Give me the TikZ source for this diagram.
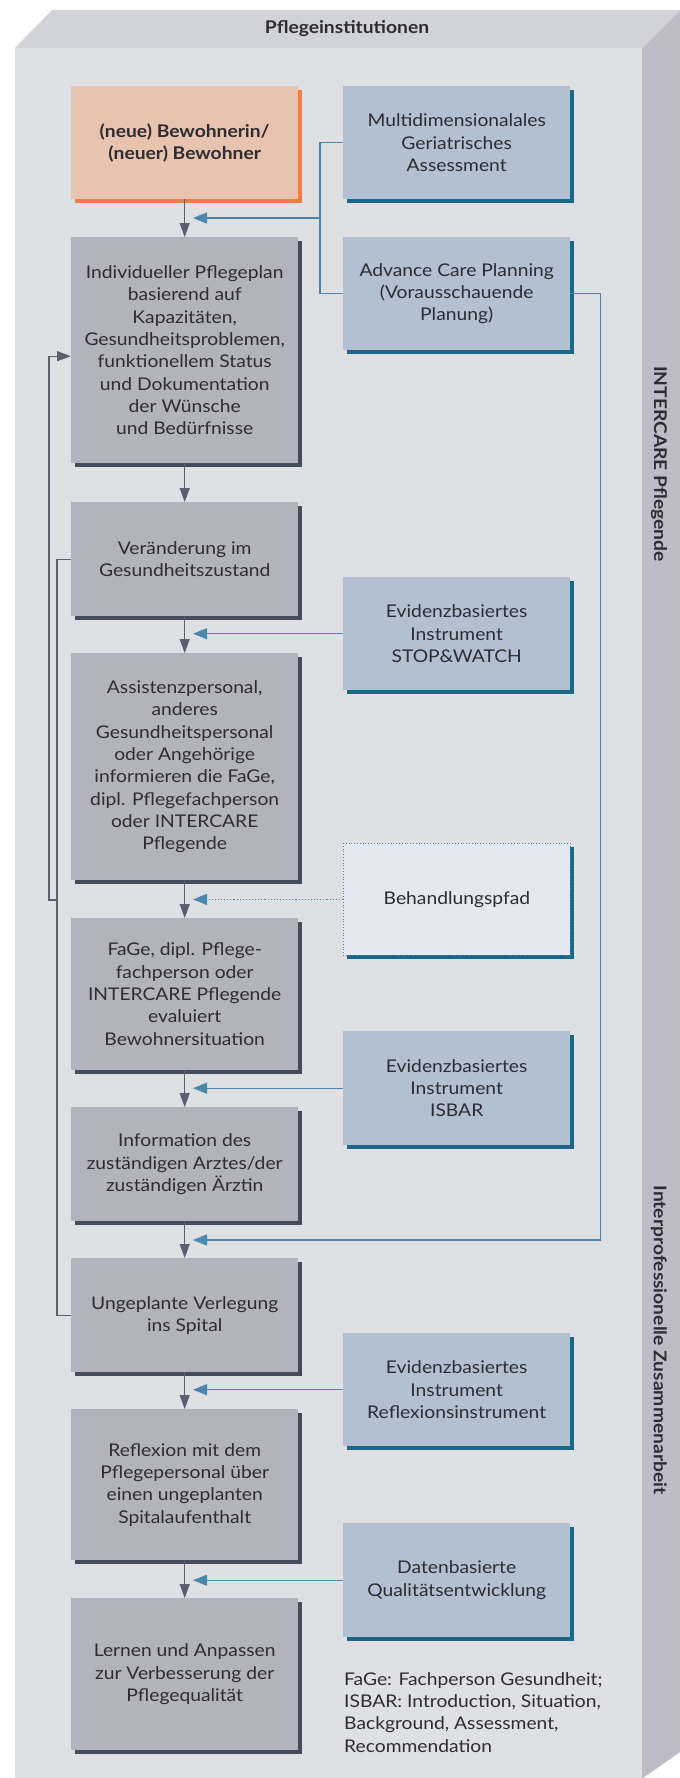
\documentclass[tikz,border=0pt]{standalone}
\usepackage{fontspec}
\setmainfont{Lato}[FakeStretch=1.1]
\usetikzlibrary{arrows.meta,shadows}
\definecolor{frontc}{HTML}{DFE0E4}
\definecolor{topc}{HTML}{D2D3D8}
\definecolor{sidec}{HTML}{BEBCC6}
\definecolor{greyfill}{HTML}{B3B3BD}
\definecolor{greyshadow}{HTML}{454A5C}
\definecolor{orangefill}{HTML}{E8C3B0}
\definecolor{orangeshadow}{HTML}{F47B45}
\definecolor{bluefill}{HTML}{B2C0D2}
\definecolor{blueshadow}{HTML}{1C6689}
\definecolor{palefill}{HTML}{E4E8F0}
\definecolor{blueline}{HTML}{4B87AD}
\definecolor{darkline}{HTML}{5C5E6F}
\definecolor{txt}{HTML}{2C2C31}
\begin{document}
\begin{tikzpicture}[x=1pt,y=-1pt,
  every node/.style={font=\fontsize{17.5}{22.3}\selectfont, text=txt, inner sep=0pt},
  basebox/.style={anchor=north west, align=center, minimum width=227pt},
  lbox/.style={basebox, fill=greyfill, general shadow={fill=greyshadow, shadow xshift=4pt, shadow yshift=-4pt}},
  obox/.style={basebox, fill=orangefill, general shadow={fill=orangeshadow, shadow xshift=4pt, shadow yshift=-4pt}},
  rbox/.style={basebox, fill=bluefill, general shadow={fill=blueshadow, shadow xshift=4pt, shadow yshift=-4pt}},
  pbox/.style={basebox, fill=palefill, draw=blueline, dotted, line width=0.8pt, general shadow={fill=blueshadow, draw=none, solid, shadow xshift=4pt, shadow yshift=-4pt}},
  darrow/.style={draw=darkline, line width=1.1pt, -{Triangle[length=14pt,width=10pt]}},
  dline/.style={draw=darkline, line width=1.1pt},
  barrow/.style={draw=blueline, line width=1.1pt, -{Triangle[length=14pt,width=11pt]}},
  bline/.style={draw=blueline, line width=1.1pt},
  sidelabel/.style={font=\fontsize{17.5}{22.3}\selectfont\bfseries, rotate=-90}
]
\useasboundingbox (0,0) rectangle (680,1778);
% frame
\fill[frontc] (15,48) rectangle (642,1778);
\fill[topc] (15,48) -- (52,10) -- (680,10) -- (642,48) -- cycle;
\fill[sidec] (642,48) -- (680,10) -- (680,1752) -- (643,1778) -- (642,1778) -- cycle;
\node[font=\fontsize{17.5}{22.3}\selectfont\bfseries] (title) at (347,29) {Pflegeinstitutionen};
\node[sidelabel] (s1) at (659,464) {INTERCARE Pflegende};
\node[sidelabel] (s2) at (659,1340) {Interprofessionelle Zusammenarbeit};
% left column
\node[obox, minimum height=113pt] (L1) at (71,86) {\bfseries (neue) Bewohnerin/\\\bfseries (neuer) Bewohner};
\node[lbox, minimum height=226pt] (L2) at (71,237) {Individueller Pflegeplan\\basierend auf\\Kapazitäten,\\Gesundheitsproblemen,\\funktionellem Status\\und Dokumentation\\der Wünsche\\und Bedürfnisse};
\node[lbox, minimum height=114pt] (L3) at (71,502) {Veränderung im\\Gesundheitszustand};
\node[lbox, minimum height=227pt] (L4) at (71,653) {Assistenzpersonal,\\anderes\\Gesundheitspersonal\\oder Angehörige\\informieren die FaGe,\\dipl. Pflegefachperson\\oder INTERCARE\\Pflegende};
\node[lbox, minimum height=152pt] (L5) at (71,918) {FaGe, dipl. Pflege-\\fachperson oder\\INTERCARE Pflegende\\evaluiert\\Bewohnersituation};
\node[lbox, minimum height=114pt] (L6) at (71,1107) {Information des\\zuständigen Arztes/der\\zuständigen Ärztin};
\node[lbox, minimum height=114pt] (L7) at (71,1258) {Ungeplante Verlegung\\ins Spital};
\node[lbox, minimum height=151pt] (L8) at (71,1409) {Reflexion mit dem\\Pflegepersonal über\\einen ungeplanten\\Spitalaufenthalt};
\node[lbox, minimum height=152pt] (L9) at (71,1598) {Lernen und Anpassen\\zur Verbesserung der\\Pflegequalität};
% right column
\node[rbox, minimum height=113pt] (A) at (343,86) {Multidimensionalales\\Geriatrisches\\Assessment};
\node[rbox, minimum height=113pt] (B) at (343,237) {Advance Care Planning\\(Vorausschauende\\Planung)};
\node[rbox, minimum height=113pt] (C) at (343,577) {Evidenzbasiertes\\Instrument\\STOP\&WATCH};
\node[pbox, minimum height=112pt] (D) at (343,843) {Behandlungspfad};
\node[rbox, minimum height=114pt] (E) at (343,1031) {Evidenzbasiertes\\Instrument\\ISBAR};
\node[rbox, minimum height=113pt] (F) at (343,1333) {Evidenzbasiertes\\Instrument\\Reflexionsinstrument};
\node[rbox, minimum height=114pt] (G) at (343,1523) {Datenbasierte\\Qualitätsentwicklung};
\node[anchor=north west, align=left] (fn) at (344,1672) {FaGe: Fachperson Gesundheit;\\ISBAR: Introduction, Situation,\\Background, Assessment,\\Recommendation};
% main flow
\draw[darrow] (L1.south) -- (L2.north);
\draw[darrow] (L2.south) -- (L3.north);
\draw[darrow] (L3.south) -- (L4.north);
\draw[darrow] (L4.south) -- (L5.north);
\draw[darrow] (L5.south) -- (L6.north);
\draw[darrow] (L6.south) -- (L7.north);
\draw[darrow] (L7.south) -- (L8.north);
\draw[darrow] (L8.south) -- (L9.north);
% blue inputs
\coordinate (tipx) at (193,0);
\coordinate (j1) at (320,218);
\draw[bline] (A.west) -- (A.west -| j1) |- (B.west);
\draw[barrow] (j1) -- (j1 -| tipx);
\draw[barrow] (C.west) -- (C.west -| tipx);
\draw[barrow, dotted] (D.west) -- (D.west -| tipx);
\draw[barrow] (E.west) -- (E.west -| tipx);
\draw[barrow] (F.west) -- (F.west -| tipx);
\draw[barrow] (G.west) -- (G.west -| tipx);
\coordinate (t6) at (193,1240);
\draw[barrow] (B.east) -- ++(30,0) |- (t6);
% left feedback loop
\coordinate (m1) at (57,900);
\draw[dline] (L7.west) -- ++(-14,0) |- (L3.west);
\draw[darrow] (m1) -- ++(-8,0) |- ([yshift=-6pt]L2.west);
\end{tikzpicture}
\end{document}
